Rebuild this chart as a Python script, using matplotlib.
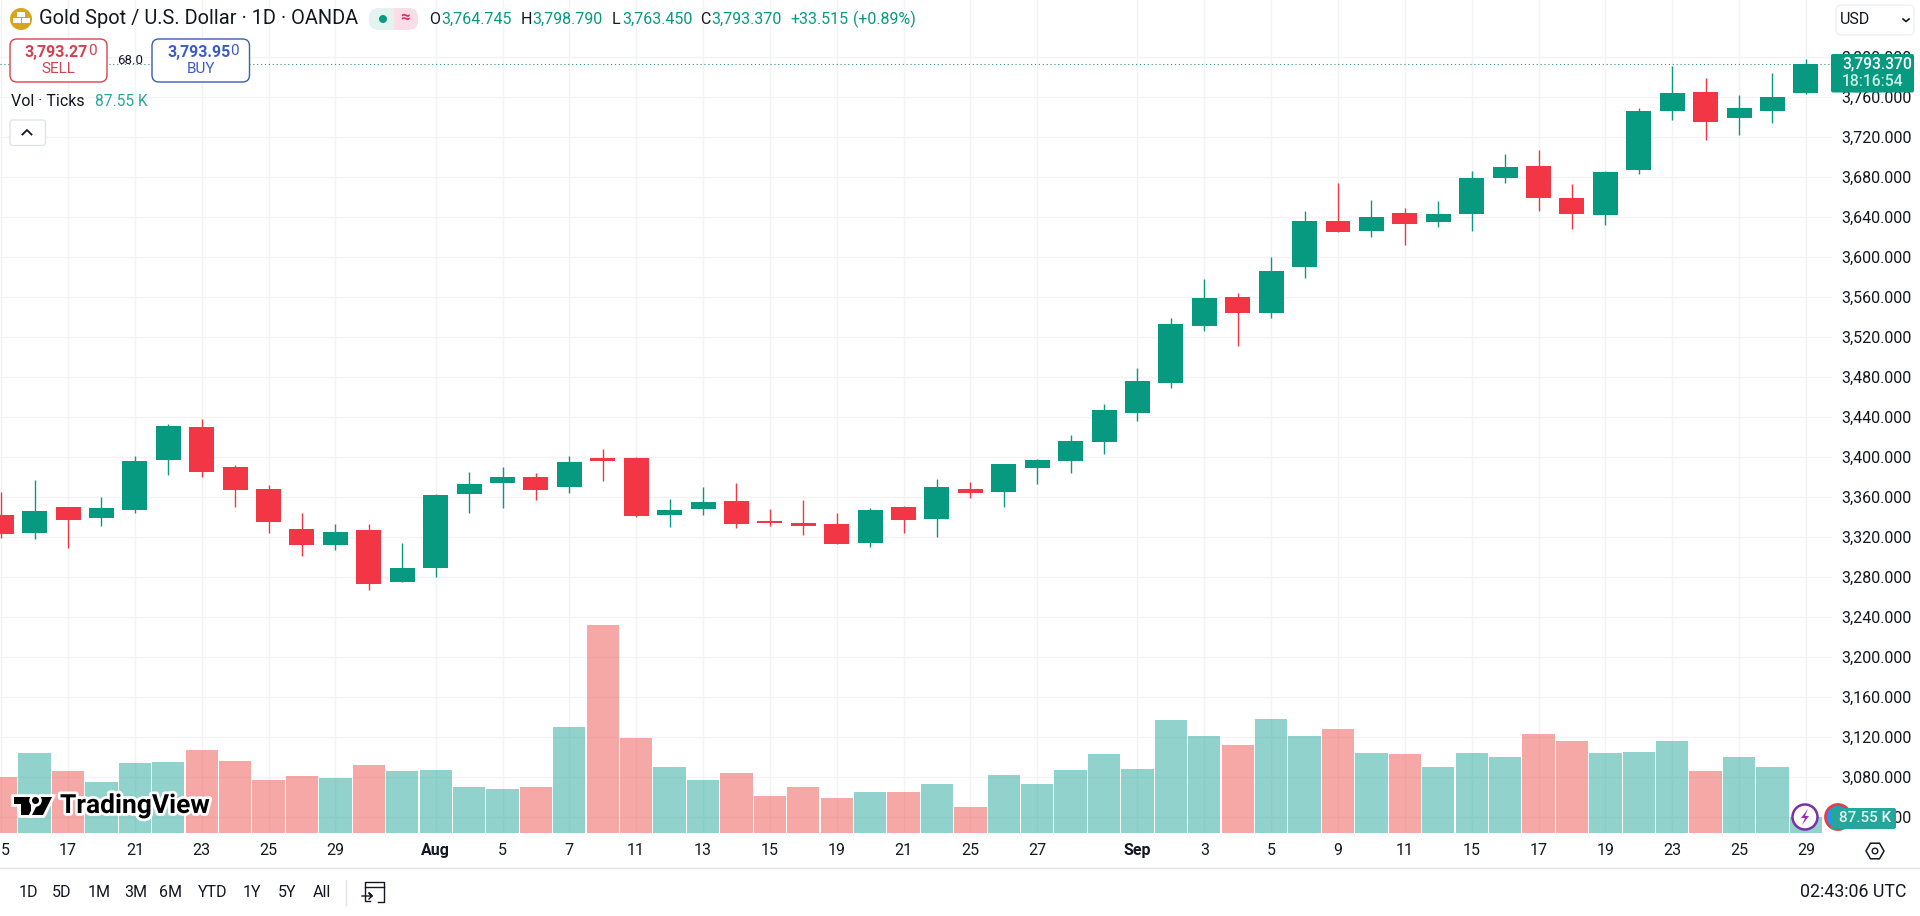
import numpy as np
import matplotlib
matplotlib.use("Agg")
import matplotlib.pyplot as plt
from matplotlib.patches import FancyBboxPatch, Rectangle, Circle, Polygon, RegularPolygon
import matplotlib.patheffects as pe

plt.rcParams["font.family"] = ["Roboto", "DejaVu Sans"]

# daily candles
opens = [3342.3, 3324.6, 3350.3, 3339.6, 3347.6, 3397.6, 3430.3, 3390.3, 3368.3, 3328.3, 3312.6,
         3327.3, 3275.6, 3289.6, 3363.6, 3374.6, 3380.3, 3370.6, 3399.3, 3399.3, 3342.3, 3348.3,
         3356.3, 3336.3, 3334.3, 3333.3, 3314.3, 3350.3, 3338.3, 3368.3, 3365.3, 3389.3, 3396.3,
         3415.3, 3444.6, 3474.6, 3531.6, 3560.3, 3544.6, 3590.6, 3636.3, 3626.6, 3644.3, 3635.3,
         3643.6, 3679.6, 3691.3, 3659.3, 3642.6, 3687.6, 3746.6, 3765.3, 3739.6, 3746.6, 3764.745]
highs = [3365.6, 3377.3, 3350.6, 3360.3, 3401.3, 3433.3, 3438.3, 3392.3, 3372.0, 3344.0, 3333.0,
         3333.3, 3314.0, 3363.3, 3385.3, 3390.0, 3384.0, 3401.3, 3408.0, 3400.0, 3358.3, 3370.3,
         3374.3, 3348.3, 3357.3, 3344.3, 3349.3, 3351.3, 3378.3, 3375.3, 3393.3, 3398.3, 3422.6,
         3453.3, 3489.0, 3539.3, 3578.0, 3564.0, 3600.0, 3646.3, 3674.3, 3657.3, 3649.0, 3656.3,
         3686.3, 3703.3, 3707.3, 3673.3, 3686.0, 3749.0, 3791.6, 3779.3, 3762.3, 3784.3, 3798.79]
lows = [3319.0, 3318.6, 3309.6, 3331.3, 3344.6, 3382.3, 3380.6, 3350.3, 3324.6, 3301.6, 3307.6,
        3267.3, 3275.6, 3280.6, 3344.6, 3349.3, 3357.6, 3364.6, 3376.6, 3340.3, 3330.3, 3342.3,
        3329.3, 3331.3, 3322.3, 3313.3, 3310.3, 3324.3, 3320.3, 3359.3, 3350.3, 3373.3, 3384.3,
        3403.3, 3436.3, 3469.6, 3526.3, 3511.6, 3539.6, 3579.3, 3625.0, 3620.6, 3612.6, 3630.6,
        3626.6, 3674.3, 3646.3, 3628.3, 3632.6, 3683.6, 3737.3, 3717.6, 3722.3, 3734.3, 3763.45]
closes = [3323.6, 3346.3, 3337.6, 3349.3, 3396.3, 3431.3, 3385.6, 3367.6, 3335.6, 3312.6, 3325.3,
          3273.6, 3289.3, 3362.3, 3373.3, 3380.3, 3367.6, 3395.3, 3396.3, 3341.3, 3347.3, 3355.3,
          3333.3, 3334.3, 3331.3, 3313.3, 3347.3, 3337.3, 3370.3, 3364.3, 3393.3, 3397.3, 3416.3,
          3447.3, 3476.3, 3533.3, 3559.3, 3544.6, 3586.3, 3636.3, 3625.6, 3640.3, 3633.6, 3643.3,
          3679.3, 3690.3, 3659.6, 3643.6, 3685.3, 3746.3, 3764.3, 3735.6, 3749.3, 3760.3, 3793.37]
# tick volume in thousands
volumes = [311, 444, 344, 283, 389, 394, 463, 400, 294, 316, 305, 377, 344, 350, 255, 244, 255, 589,
           1161, 528, 369, 294, 335, 205, 255, 193, 227, 227, 273, 143, 322, 273, 350, 439, 355, 628,
           539, 492, 634, 539, 580, 444, 439, 369, 444, 422, 553, 511, 444, 450, 511, 344, 422, 366,
           87.55]

date_ticks = [0, 2, 4, 6, 8, 10, 13, 15, 17, 19, 21, 23, 25, 27, 29, 31, 34, 36, 38, 40, 42, 44, 46, 48, 50, 52, 54]
date_labels = ["15", "17", "21", "23", "25", "29", "Aug", "5", "7", "11", "13", "15", "19", "21", "25", "27",
               "Sep", "3", "5", "9", "11", "15", "17", "19", "23", "25", "29"]
price_ticks = list(range(3040, 3801, 40))
range_buttons = ["1D", "5D", "1M", "3M", "6M", "YTD", "1Y", "5Y", "All"]
range_centers = [28, 62, 99, 135.5, 171, 213, 252, 287, 321.5]

GREEN = "#089981"
RED = "#f23645"
VOL_GREEN = "#26a69a"
VOL_RED = "#ef5350"
GRID = "#f2f3f6"
TEXT = "#131722"

W, H = 1920, 916
CHART_W, CHART_H = 1832, 833

opens = np.array(opens)
closes = np.array(closes)
x = np.arange(len(opens))
up = closes >= opens
xlim = (-1.2 / 33.42, (CHART_W - 1.2) / 33.42)

fig = plt.figure(figsize=(W / 100, H / 100), dpi=100, facecolor="white")
rect = [0, (H - CHART_H) / H, CHART_W / W, CHART_H / H]

ax = fig.add_axes(rect, zorder=1)
ax.set_axisbelow(True)
ax.grid(True, color=GRID, lw=1)
colors = [GREEN if u else RED for u in up]
ax.vlines(x, lows, highs, colors=colors, lw=1, zorder=3)
ax.bar(x, np.abs(closes - opens), bottom=np.minimum(opens, closes), width=0.748, color=colors, zorder=4)
ax.axhline(closes[-1], color="#2f8f80", lw=0.8, dashes=(1, 2.5), zorder=2)

ax.set_xlim(xlim)
ax.set_ylim(3857.3 - CHART_H, 3857.3)
for s in ax.spines.values():
    s.set_visible(False)

ax.yaxis.tick_right()
ax.set_yticks(price_ticks)
ax.set_yticklabels([f"{p:,.3f}" for p in price_ticks])
ax.tick_params(axis="y", length=0, pad=7, labelsize=11.5, labelcolor=TEXT)
ax.set_xticks(date_ticks)
ax.set_xticklabels(date_labels)
ax.tick_params(axis="x", length=0, pad=7, labelsize=11.5, labelcolor=TEXT)
for lab in ax.get_xticklabels():
    if lab.get_text() in ("Aug", "Sep"):
        lab.set_fontweight("bold")

# volume pane, see-through so the grid shows under the bars
ax_vol = fig.add_axes(rect, zorder=2)
ax_vol.bar(x, volumes, width=0.967, color=[VOL_GREEN if u else VOL_RED for u in up], alpha=0.5)
ax_vol.set_xlim(xlim)
ax_vol.set_ylim(0, 4645)
ax_vol.axis("off")

# screen furniture, drawn in pixel coordinates
ui = fig.add_axes([0, 0, 1, 1], zorder=3)
ui.set_xlim(0, W)
ui.set_ylim(H, 0)
ui.axis("off")


def txt(px, py, s, size=11.5, color=TEXT, ha="left", **kw):
    return ui.text(px, py, s, fontsize=size, color=color, ha=ha, va="center", **kw)


def box(x0, y0, x1, y1, face="white", edge="none", r=5, lw=1):
    p = FancyBboxPatch((x0 + r, y0 + r), x1 - x0 - 2 * r, y1 - y0 - 2 * r, boxstyle=f"round,pad={r},rounding_size={r}",
                       fc=face, ec=edge, lw=lw)
    ui.add_patch(p)
    return p


# header
ui.add_patch(Circle((21, 19), 11, fc="#d9a31c", ec="none"))
ui.add_patch(Rectangle((17, 11.5), 8, 5, fc="white", ec="none"))
ui.add_patch(Rectangle((13, 18), 7.5, 5, fc="white", ec="none"))
ui.add_patch(Rectangle((22, 18), 7.5, 5, fc="white", ec="none"))
txt(39, 19, "Gold Spot / U.S. Dollar · 1D · OANDA", size=14.4)

box(369, 8, 418, 30, face="#e4f3f0", r=10)
box(394, 8, 418, 30, face="#fbdde8", r=10)
ui.add_patch(Rectangle((394, 8), 10, 22, fc="#fbdde8", ec="none"))
ui.add_patch(Circle((383, 19), 4, fc=GREEN, ec="none"))
txt(405, 18, "≈", size=12, color="#e91e63", ha="center", fontweight="bold")

for px, s, c in [(429, "O", TEXT), (441, "3,764.745", GREEN), (520.5, "H", TEXT), (532, "3,798.790", GREEN),
                 (612, "L", TEXT), (622.5, "3,763.450", GREEN), (700.5, "C", TEXT), (711.5, "3,793.370", GREEN),
                 (790.5, "+33.515", GREEN), (853, "(+0.89%)", GREEN)]:
    txt(px, 19, s, color=c)

# sell / buy
box(10, 39, 107, 82, edge="#d9434f", r=7)
txt(24.5, 52, "3,793.27", size=11.5, color="#d5404c", fontweight="bold")
txt(88, 51, "0", size=11, color="#d5404c")
txt(58.5, 69, "SELL", size=11, color="#d5404c", ha="center")
txt(130.5, 60, "68.0", size=9.5, ha="center")
box(152, 39, 249.5, 82, edge="#3a5cb5", r=7)
txt(167, 52, "3,793.95", size=11.5, color="#3a5cc7", fontweight="bold")
txt(230, 51, "0", size=11, color="#3a5cc7")
txt(201, 69, "BUY", size=11, color="#3a5cc7", ha="center")

txt(11, 101.5, "Vol · Ticks")
txt(95, 101.5, "87.55 K", size=11.2, color="#26a69a")
box(10, 120, 45.5, 145.5, edge="#e0e3eb", r=3)
ui.plot([22.5, 27, 31.5], [134.5, 130, 134.5], color=TEXT, lw=1.3)

# right side
box(1836, 5, 1914, 35, edge="#eef0f4", r=5)
txt(1840, 20, "USD")
ui.plot([1903, 1906, 1909], [19, 21.5, 19], color=TEXT, lw=1.2)
box(1831, 54, 1914, 92.5, face=GREEN, r=2)
txt(1842, 63.5, "3,793.370", size=11.3, color="white", fontweight="medium")
txt(1842, 81.5, "18:16:54", size=11.3, color="#c6efe5", fontweight="medium")

# bottom right badges
ui.add_patch(Circle((1838, 817), 12.5, fc="#2196f3", ec="#e0404c", lw=2))
ui.add_patch(Circle((1805, 817), 12.5, fc="white", ec="#7b2fa8", lw=1.8))
ui.add_patch(Polygon([(1808, 809), (1801, 818), (1805, 818), (1802, 825), (1809, 816), (1805, 816)],
                     fc="#9c27b0", ec="none"))
box(1831, 808, 1896, 829, face="#26a69a", r=2)
txt(1865, 818, "87.55 K", size=11, color="#e3f6f3", ha="center", fontweight="medium")
ui.add_patch(RegularPolygon((1875, 851), 6, radius=9, orientation=np.pi / 6, fc="none", ec=TEXT, lw=1.1))
ui.add_patch(Circle((1875, 851), 2.8, fc="none", ec=TEXT, lw=1))

# logo
white_edge = [pe.withStroke(linewidth=4, foreground="white")]
for shape in [Polygon([(14, 797), (31, 797), (31, 815), (21, 815), (21, 804), (14, 804)]),
              Polygon([(41, 797), (52, 797), (43, 815), (32, 815)]),
              Circle((35.5, 800.5), 3.5)]:
    shape.set(fc="black", ec="none", path_effects=white_edge)
    ui.add_patch(shape)
txt(60, 806, "TradingView", size=19, color="black", fontweight="bold", path_effects=white_edge)

# bottom toolbar
ui.plot([0, W], [868, 868], color="#e0e3eb", lw=1)
for cx, s in zip(range_centers, range_buttons):
    txt(cx, 892.5, s, size=11.5, ha="center")
ui.plot([345.5, 345.5], [880, 905], color="#e0e3eb", lw=1)
ui.plot([370, 365, 365, 384, 384, 378], [901, 901, 882, 882, 902, 902], color=TEXT, lw=1)
ui.plot([365, 384], [887, 887], color=TEXT, lw=1)
ui.plot([362, 372, 369, 372, 369], [896, 896, 893, 896, 899], color=TEXT, lw=1)
txt(1907, 892, "02:43:06 UTC", size=12.8, ha="right")

fig.savefig("out.png", dpi=100)
